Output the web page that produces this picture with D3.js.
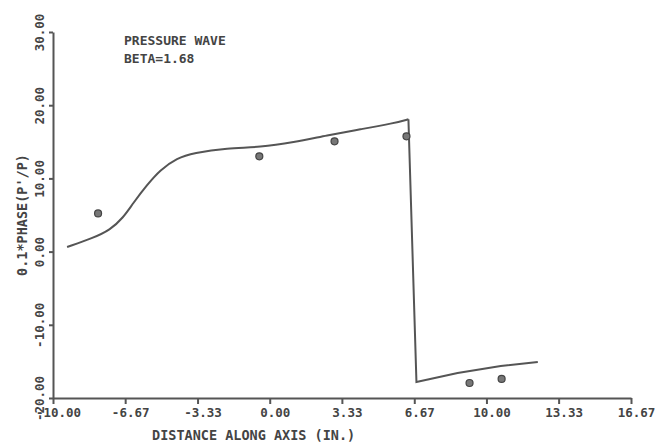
<!DOCTYPE html>
<html>
<head>
<meta charset="utf-8">
<script src="https://cdnjs.cloudflare.com/ajax/libs/d3/7.8.5/d3.min.js"></script>
<style>
  body { margin: 0; background: #fff; }
  svg text { font-family: "DejaVu Sans Mono", monospace; fill: #444; }
  .axis path, .axis line { stroke: #555; stroke-width: 2; }
</style>
</head>
<body>
<svg id="chart"></svg>
<script>
var width = 668, height = 443;

// x ticks / y ticks as printed
var xTicks = [-10, -6.67, -3.33, 0, 3.33, 6.67, 10, 13.33, 16.67];
var yTicks = [-20, -10, 0, 10, 20, 30];

// computed curve, smooth part (up to the shock)
var curveX = [-9.35, -8.15, -7.37, -6.77, -6.30, -5.66, -5.06, -4.27, -3.53, -1.96, -0.43, 1.09, 2.66, 4.18, 5.71, 6.40];
var curveY = [0.63, 1.86, 2.95, 4.59, 6.64, 9.10, 11.15, 12.79, 13.47, 14.15, 14.25, 14.93, 15.89, 16.71, 17.53, 18.08];

// after the shock (straight pieces)
var shockX = [6.40, 6.77, 8.67, 10.66, 12.37];
var shockY = [18.08, -17.81, -16.58, -15.62, -15.07];

// measured points
var measX = [-7.92, -0.48, 2.99, 6.31, 9.22, 10.70];
var measY = [5.21, 13.01, 15.07, 15.75, -17.95, -17.40];

var svg = d3.select("#chart")
  .attr("width", width)
  .attr("height", height);

var x = d3.scaleLinear()
  .domain([-10, 16.67])
  .range([53, 631]);

var y = d3.scaleLinear()
  .domain([-20, 30])
  .range([398, 32]);

var xAxis = d3.axisBottom(x)
  .tickValues(xTicks)
  .tickSize(6)
  .tickSizeOuter(0)
  .tickFormat(function(d) { return d.toFixed(2); });

var yAxis = d3.axisLeft(y)
  .tickValues(yTicks)
  .tickSize(4)
  .tickSizeOuter(0)
  .tickFormat(function(d) { return d.toFixed(2); });

var gx = svg.append("g")
  .attr("class", "axis")
  .attr("transform", "translate(0," + y(-20) + ")")
  .call(xAxis);
gx.selectAll("text")
  .attr("dx", 5)
  .attr("y", 10)
  .style("font-size", "12.5px")
  .style("font-weight", "bold");

var gy = svg.append("g")
  .attr("class", "axis")
  .attr("transform", "translate(" + x(-10) + ",0)")
  .call(yAxis);
gy.selectAll("text")
  .attr("x", 0)
  .attr("y", 0)
  .attr("dy", 0)
  .attr("transform", "translate(-9,0) rotate(-90)")
  .style("text-anchor", "middle")
  .style("font-size", "12.5px")
  .style("font-weight", "bold");

// line
var smooth = curveX.map(function(d, i) { return [d, curveY[i]]; });
var shock = shockX.map(function(d, i) { return [d, shockY[i]]; });

var line = d3.line()
  .x(function(d) { return x(d[0]); })
  .y(function(d) { return y(d[1]); });

svg.append("path")
  .datum(smooth)
  .attr("d", line.curve(d3.curveBasis))
  .attr("fill", "none")
  .attr("stroke", "#555")
  .attr("stroke-width", 2);

svg.append("path")
  .datum(shock)
  .attr("d", line.curve(d3.curveLinear))
  .attr("fill", "none")
  .attr("stroke", "#555")
  .attr("stroke-width", 2)
  .attr("stroke-linejoin", "miter");

svg.selectAll("circle.meas")
  .data(measX)
  .enter().append("circle")
  .attr("class", "meas")
  .attr("cx", function(d) { return x(d); })
  .attr("cy", function(d, i) { return y(measY[i]); })
  .attr("r", 3.5)
  .attr("fill", "#777")
  .attr("stroke", "#444")
  .attr("stroke-width", 1.2);

// titles
svg.append("text")
  .attr("x", 124)
  .attr("y", 45)
  .style("font-size", "13px")
  .style("font-weight", "bold")
  .text("PRESSURE WAVE");

svg.append("text")
  .attr("x", 124)
  .attr("y", 63)
  .style("font-size", "13px")
  .style("font-weight", "bold")
  .text("BETA=1.68");

svg.append("text")
  .attr("x", 152)
  .attr("y", 440)
  .style("font-size", "13.5px")
  .style("font-weight", "bold")
  .text("DISTANCE ALONG AXIS (IN.)");

svg.append("text")
  .attr("transform", "translate(27,215) rotate(-90)")
  .style("text-anchor", "middle")
  .style("font-size", "13.5px")
  .style("font-weight", "bold")
  .text("0.1*PHASE(P'/P)");
</script>
</body>
</html>
